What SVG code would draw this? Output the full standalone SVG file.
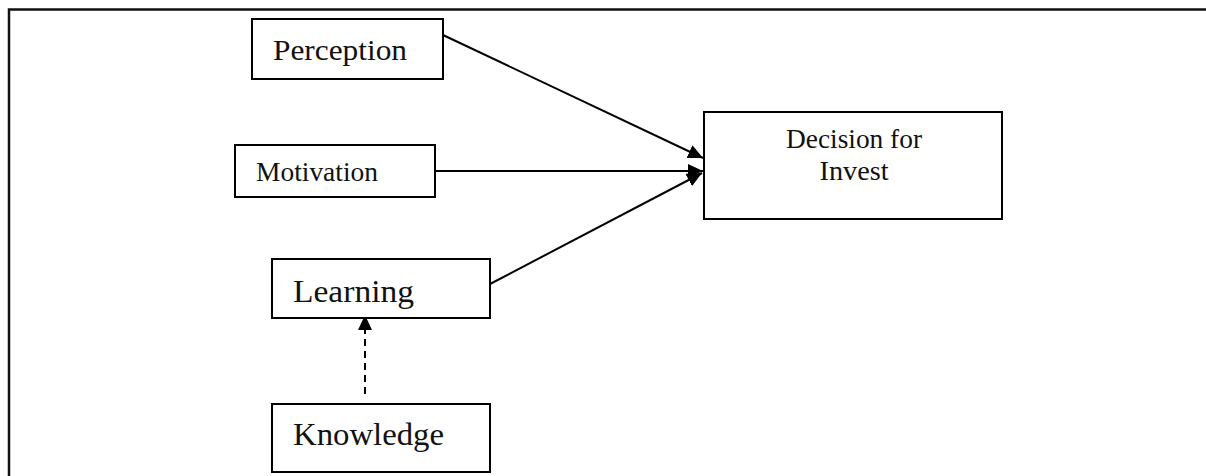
<svg xmlns="http://www.w3.org/2000/svg" width="1206" height="476" viewBox="0 0 1206 476">
<style>
.box{fill:#fff;stroke:#000;stroke-width:2}
.lbl{font-family:"Liberation Serif","DejaVu Serif",serif;fill:#111}
.edge{stroke:#000;stroke-width:2;fill:none}
.dash{stroke-dasharray:7,5}
</style>
<defs>
<marker id="ah" markerUnits="userSpaceOnUse" markerWidth="16" markerHeight="14" refX="15" refY="7" orient="auto">
<path d="M0,0 L15,7 L0,14 Z" fill="#000"/>
</marker>
</defs>
<rect width="1206" height="476" fill="#fff"/>
<g id="frame">
<path d="M9,476 L9,9.5 L1206,9.5" fill="none" stroke="#111" stroke-width="2.5"/>
</g>
<g id="connectors">
<line class="edge" x1="443" y1="35" x2="703" y2="158" marker-end="url(#ah)"/>
<line class="edge" x1="435" y1="171" x2="703" y2="171" marker-end="url(#ah)"/>
<line class="edge" x1="490" y1="284" x2="702" y2="173" marker-end="url(#ah)"/>
<line class="edge dash" x1="365" y1="394" x2="365" y2="315" marker-end="url(#ah)"/>
</g>
<g id="perception">
<rect class="box" x="252" y="19" width="191" height="60"/>
<text class="lbl" x="273" y="60" font-size="30" textLength="134" lengthAdjust="spacingAndGlyphs">Perception</text>
</g>
<g id="motivation">
<rect class="box" x="235" y="145" width="200" height="52"/>
<text class="lbl" x="256" y="181" font-size="27" textLength="122" lengthAdjust="spacingAndGlyphs">Motivation</text>
</g>
<g id="decision">
<rect class="box" x="704" y="112" width="298" height="107"/>
<text class="lbl" x="854" y="148" font-size="27" text-anchor="middle" textLength="136" lengthAdjust="spacingAndGlyphs">Decision for</text>
<text class="lbl" x="854" y="180" font-size="27" text-anchor="middle" textLength="69" lengthAdjust="spacingAndGlyphs">Invest</text>
</g>
<g id="learning">
<rect class="box" x="272" y="259" width="218" height="59"/>
<text class="lbl" x="293" y="302" font-size="31" textLength="121" lengthAdjust="spacingAndGlyphs">Learning</text>
</g>
<g id="knowledge">
<rect class="box" x="272" y="404" width="218" height="68"/>
<text class="lbl" x="293" y="445" font-size="31" textLength="151" lengthAdjust="spacingAndGlyphs">Knowledge</text>
</g>
</svg>
